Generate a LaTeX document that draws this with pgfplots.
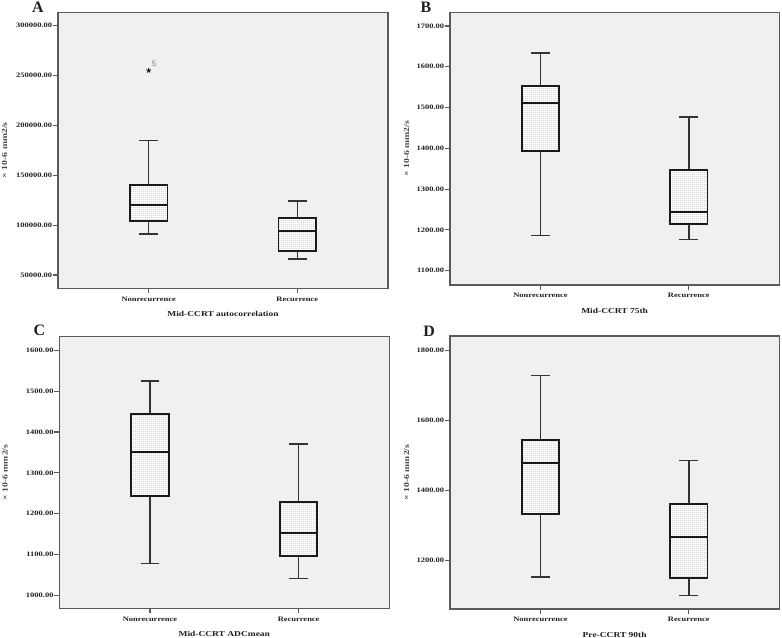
\documentclass[border=0pt]{standalone}
\usepackage{fontspec}
\setmainfont{Liberation Serif}
\newfontfamily\spss[FakeStretch=1.25]{Liberation Serif}
\newfontfamily\sans{Liberation Sans}
\usepackage{pgfplots}
\pgfplotsset{compat=1.18}
\usetikzlibrary{patterns}
\definecolor{bgray}{HTML}{F0F0F0}
\definecolor{framegray}{HTML}{5A5A5A}
\definecolor{boxline}{HTML}{1A1A1A}
\definecolor{whiskcol}{HTML}{333333}
\definecolor{txt}{HTML}{1E1E1E}
\definecolor{ylab}{HTML}{444444}
\pgfdeclarepatternformonly{spssdots}{\pgfqpoint{0bp}{0bp}}{\pgfqpoint{2.2bp}{1.5bp}}{\pgfqpoint{2.2bp}{1.5bp}}{%
  \pgfpathrectangle{\pgfqpoint{0.6bp}{0.35bp}}{\pgfqpoint{0.8bp}{0.8bp}}\pgfusepath{fill}}

\pgfplotsset{
  spss/.style={
    scale only axis, anchor=north west,
    axis background/.style={fill=bgray},
    axis line style={draw=framegray, line width=1.2bp},
    xmin=0.39, xmax=2.61,
    xtick={1,2}, xticklabels={Nonrecurrence,Recurrence},
    xtick pos=left, ytick pos=left,
    tick align=outside, major tick length=5bp,
    tick style={draw=framegray, line width=1.1bp},
    scaled y ticks=false,
    /pgf/number format/fixed,
    /pgf/number format/fixed zerofill,
    /pgf/number format/precision=2,
    /pgf/number format/1000 sep={},
    /pgf/number format/assume math mode=true,
    ticklabel style={font=\spss\bfseries\fontsize{6.8}{7}\selectfont, text=txt},
    yticklabel style={inner sep=0.6bp},
    xlabel style={font=\spss\bfseries\fontsize{7.6}{8}\selectfont, text=txt, at={(axis description cs:0.5,0)}, anchor=center, yshift=-25.5bp},
    ylabel style={font=\spss\bfseries\fontsize{7.8}{8}\selectfont, text=ylab, anchor=center},
    ylabel={× 10-6 mm2/s},
    clip=false,
  },
  wh/.style={draw=whiskcol, line width=1.6bp},
  bxm/.style={draw=boxline, line width=1.8bp, pattern=spssdots, pattern color=gray!75, preaction={fill=white}},
  md/.style={draw=boxline, line width=1.9bp},
}
% box at x = 1: #1 lower whisker, #2 lower quartile, #3 median, #4 upper quartile, #5 upper whisker
\newcommand{\boxone}[5]{%
  \addplot[wh] coordinates {(1,#1) (1,#2)};
  \addplot[wh] coordinates {(1,#4) (1,#5)};
  \addplot[wh] coordinates {(0.9365,#1) (1.0635,#1)};
  \addplot[wh] coordinates {(0.9365,#5) (1.0635,#5)};
  \addplot[bxm] coordinates {(0.874,#2) (1.126,#2) (1.126,#4) (0.874,#4)} -- cycle;
  \addplot[md] coordinates {(0.874,#3) (1.126,#3)};
}
% box at x = 2
\newcommand{\boxtwo}[5]{%
  \addplot[wh] coordinates {(2,#1) (2,#2)};
  \addplot[wh] coordinates {(2,#4) (2,#5)};
  \addplot[wh] coordinates {(1.9365,#1) (2.0635,#1)};
  \addplot[wh] coordinates {(1.9365,#5) (2.0635,#5)};
  \addplot[bxm] coordinates {(1.874,#2) (2.126,#2) (2.126,#4) (1.874,#4)} -- cycle;
  \addplot[md] coordinates {(1.874,#3) (2.126,#3)};
}

\begin{document}
\begin{tikzpicture}
\useasboundingbox (0,0) rectangle (782bp,-638bp);

% ---------- A ----------
\begin{axis}[spss, at={(58bp,-12.3bp)}, width=330bp, height=276bp,
  ymin=36630, ymax=313370, ytick={50000,100000,150000,200000,250000,300000},
  xlabel={Mid-CCRT autocorrelation},
  ylabel style={at={(axis description cs:-0.162,0.5)}}]
\boxone{91000}{104400}{120000}{140200}{184700}
\addplot[only marks, mark=star, mark size=2.4bp, mark options={draw=boxline, line width=1bp}] coordinates {(1,255000)};
\boxtwo{66000}{74000}{93800}{106800}{124200}
\node[font=\sans\fontsize{8}{8}\selectfont, text=gray, xshift=5.5bp, yshift=6.5bp] at (axis cs:1,255000) {5};
\end{axis}

% ---------- B ----------
\begin{axis}[spss, at={(450bp,-12.3bp)}, width=329.3bp, height=272.7bp,
  ymin=1064.9, ymax=1733.5, ytick={1100,1200,1300,1400,1500,1600,1700},
  xlabel={Mid-CCRT 75th},
  ylabel style={at={(axis description cs:-0.1315,0.5)}}]
\boxone{1186.7}{1393.5}{1510.4}{1552.9}{1633.8}
\boxtwo{1176}{1214.5}{1243.9}{1346}{1476.9}
\end{axis}

% ---------- C ----------
\begin{axis}[spss, at={(59.3bp,-336.7bp)}, width=330bp, height=271.6bp,
  ymin=968.2, ymax=1633.3, ytick={1000,1100,1200,1300,1400,1500,1600},
  xlabel={Mid-CCRT ADCmean},
  ylabel style={at={(axis description cs:-0.1645,0.5)}}]
\boxone{1078.4}{1243.3}{1351}{1443.3}{1524.1}
\boxtwo{1040.8}{1096.3}{1153.5}{1227.8}{1370.6}
\end{axis}

% ---------- D ----------
\begin{axis}[spss, at={(450bp,-336bp)}, width=329.3bp, height=273bp,
  ymin=1060.9, ymax=1841, ytick={1200,1400,1600,1800},
  xlabel={Pre-CCRT 90th},
  ylabel style={at={(axis description cs:-0.1315,0.5)}}]
\boxone{1152.4}{1332.4}{1477.1}{1543.8}{1727.6}
\boxtwo{1100}{1150.5}{1267.6}{1360}{1484.8}
\end{axis}

\node[font=\bfseries\fontsize{16}{16}\selectfont, text=txt] at (38bp,-7bp) {A};
\node[font=\bfseries\fontsize{16}{16}\selectfont, text=txt] at (426bp,-7.3bp) {B};
\node[font=\bfseries\fontsize{16}{16}\selectfont, text=txt] at (39.3bp,-330.7bp) {C};
\node[font=\bfseries\fontsize{16}{16}\selectfont, text=txt] at (429bp,-331.7bp) {D};
\end{tikzpicture}
\end{document}
